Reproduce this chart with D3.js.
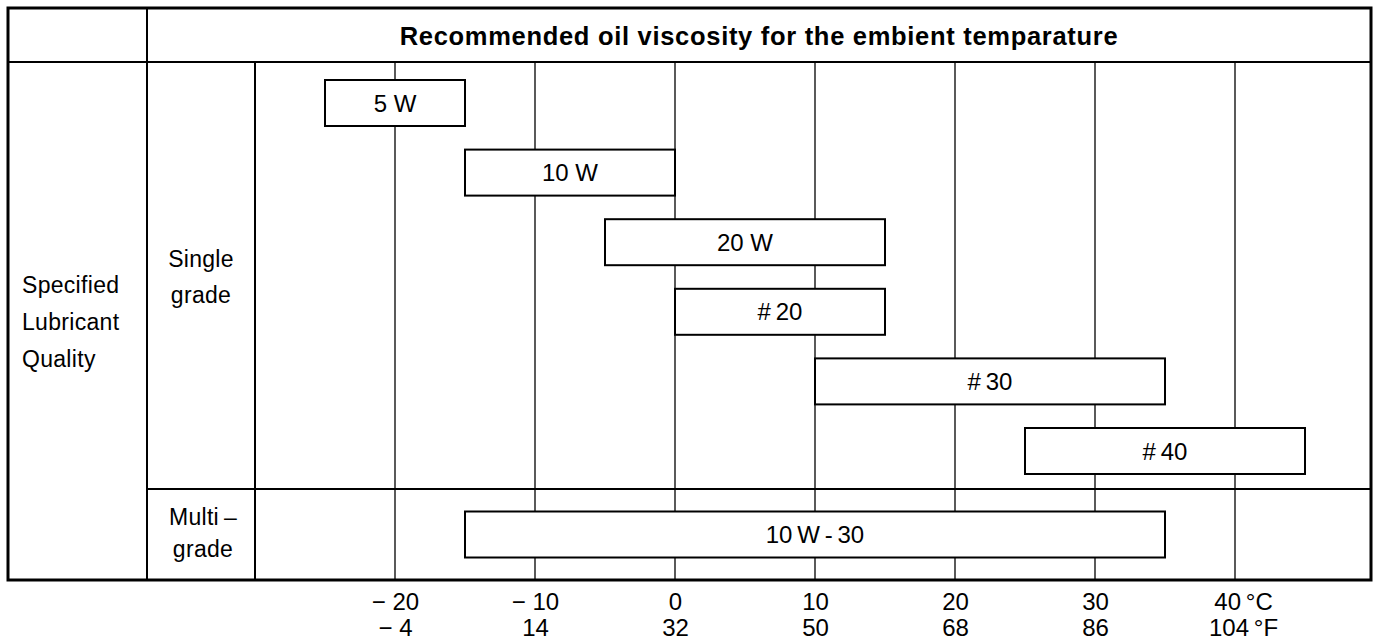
<!DOCTYPE html>
<html>
<head>
<meta charset="utf-8">
<script src="https://cdn.jsdelivr.net/npm/d3@7/dist/d3.min.js"></script>
<style>
  html, body { margin: 0; padding: 0; background: #fff; }
  svg { display: block; }
  text { font-family: "Liberation Sans", Arial, Helvetica, sans-serif; fill: #000; }
</style>
</head>
<body>
<svg id="chart" width="1381" height="641"></svg>
<script>
// Oil grades and their recommended ambient temperature ranges (°C)
const grades     = ["5 W", "10 W", "20 W", "#\u200920", "#\u200930", "#\u200940", "10\u2009W\u2009-\u200930"];
const gradeGroup = ["single", "single", "single", "single", "single", "single", "multi"];
const lowC       = [-25, -15, -5, 0, 10, 25, -15];
const highC      = [-15, 0, 15, 15, 35, 45, 35];

// Temperature scale tick labels
const ticksC = [-20, -10, 0, 10, 20, 30, 40];
const ticksF = [-4, 14, 32, 50, 68, 86, 104];

const title = "Recommended oil viscosity for the embient temparature";
const qualityLabel = ["Specified", "Lubricant", "Quality"];
const singleLabel = ["Single", "grade"];
const multiLabel = ["Multi\u2009\u2013", "grade"];

const svg = d3.select("#chart");

// Table frame geometry
const L = 8, R = 1371, T = 8, B = 580;
const colA = 147, colB = 255;
const headerY = 62, multiY = 489;

const x = d3.scaleLinear().domain([-30, 50]).range([colB, colB + 1120]);

const singles = grades.filter((g, i) => gradeGroup[i] === "single");
const ySingle = d3.scalePoint().domain(singles).range([103, 451]);
const yMulti = (multiY + B) / 2;
const barH = 46;

const rows = grades.map((g, i) => ({
  name: g, lo: lowC[i], hi: highC[i],
  cy: gradeGroup[i] === "single" ? ySingle(g) : yMulti
}));

// Vertical temperature gridlines
svg.append("g").selectAll("line")
  .data(ticksC)
  .join("line")
  .attr("x1", d => x(d)).attr("x2", d => x(d))
  .attr("y1", headerY).attr("y2", B)
  .attr("stroke", "#000").attr("stroke-width", 1.3);

// Range bars
const bars = svg.append("g");
bars.selectAll("rect")
  .data(rows)
  .join("rect")
  .attr("x", d => x(d.lo))
  .attr("width", d => x(d.hi) - x(d.lo))
  .attr("y", d => d.cy - barH / 2)
  .attr("height", barH)
  .attr("fill", "#fff")
  .attr("stroke", "#000")
  .attr("stroke-width", 2);

bars.selectAll("text")
  .data(rows)
  .join("text")
  .attr("x", d => (x(d.lo) + x(d.hi)) / 2)
  .attr("y", d => d.cy)
  .attr("dy", "0.36em")
  .attr("text-anchor", "middle")
  .attr("font-size", 24)
  .text(d => d.name);

// Table rules
const frame = svg.append("g").attr("stroke", "#000").attr("fill", "none");
frame.append("line").attr("x1", L).attr("x2", R).attr("y1", headerY).attr("y2", headerY).attr("stroke-width", 2);
frame.append("line").attr("x1", colA).attr("x2", R).attr("y1", multiY).attr("y2", multiY).attr("stroke-width", 2);
frame.append("line").attr("x1", colA).attr("x2", colA).attr("y1", T).attr("y2", B).attr("stroke-width", 2);
frame.append("line").attr("x1", colB).attr("x2", colB).attr("y1", headerY).attr("y2", B).attr("stroke-width", 2);
frame.append("rect").attr("x", L).attr("y", T).attr("width", R - L).attr("height", B - T).attr("stroke-width", 3);

// Header
svg.append("text")
  .attr("x", (colA + R) / 2).attr("y", 45)
  .attr("text-anchor", "middle")
  .attr("font-size", 25.5).attr("font-weight", "bold")
  .attr("letter-spacing", 0.7)
  .text(title);

// Row headings
svg.append("g").selectAll("text")
  .data(qualityLabel)
  .join("text")
  .attr("x", 22).attr("y", (d, i) => 293 + i * 37)
  .attr("font-size", 23)
  .attr("letter-spacing", 0.3)
  .text(d => d);

svg.append("g").selectAll("text")
  .data(singleLabel)
  .join("text")
  .attr("x", (colA + colB) / 2).attr("y", (d, i) => 267 + i * 36)
  .attr("text-anchor", "middle")
  .attr("font-size", 23)
  .attr("letter-spacing", 0.3)
  .text(d => d);

svg.append("g").selectAll("text")
  .data(multiLabel)
  .join("text")
  .attr("x", (colA + colB) / 2 + 2).attr("y", (d, i) => 525 + i * 32)
  .attr("text-anchor", "middle")
  .attr("font-size", 23)
  .attr("letter-spacing", 0.3)
  .text(d => d);

// Temperature axes: Celsius above, Fahrenheit below
const last = ticksC.length - 1;
const fmtC = (d, i) => (d < 0 ? "\u2212 " + (-d) : String(d)) + (i === last ? "\u2009\u00B0C" : "");
const fmtF = (d, i) => (d < 0 ? "\u2212 " + (-d) : String(d)) + (i === last ? "\u2009\u00B0F" : "");

const axisC = d3.axisBottom(x).tickValues(ticksC).tickSize(0).tickPadding(0).tickFormat(fmtC);
const gC = svg.append("g").attr("transform", "translate(0,610)").call(axisC);

const xF = d3.scaleOrdinal().domain(ticksF).range(ticksC.map(d => x(d)));
const axisF = d3.axisBottom(xF).tickSize(0).tickPadding(0).tickFormat(fmtF);
const gF = svg.append("g").attr("transform", "translate(0,636)").call(axisF);

[gC, gF].forEach(g => {
  g.select(".domain").remove();
  g.selectAll("text")
    .attr("font-size", 24)
    .attr("font-family", "'Liberation Sans', Arial, Helvetica, sans-serif")
    .attr("fill", "#000")
    .attr("y", 0)
    .attr("dy", 0);
  g.selectAll(".tick:last-of-type text").attr("dx", 8);
});
</script>
</body>
</html>
